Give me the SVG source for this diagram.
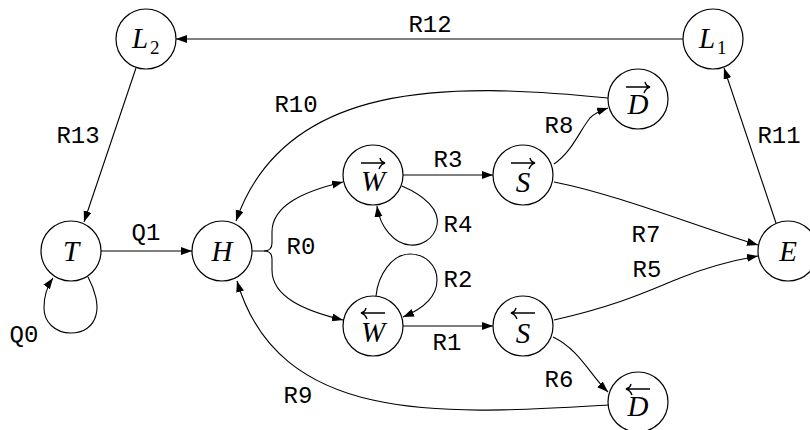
<svg xmlns="http://www.w3.org/2000/svg" width="810" height="430" viewBox="0 0 810 430">
<style>
.n circle{fill:#fff;stroke:#000;stroke-width:1.2}
.m{font-family:"Liberation Serif",serif;font-style:italic;font-size:29px;text-anchor:middle;fill:#000}
.sub{font-family:"Liberation Serif",serif;font-size:19px;fill:#000}
.acc{fill:none;stroke:#000;stroke-width:1.4}
.e path{fill:none;stroke:#000;stroke-width:1.1;marker-end:url(#ah)}
.l{font-family:"Liberation Mono","DejaVu Sans Mono",monospace;font-size:24px;text-anchor:middle;fill:#000}
</style>
<defs>
<marker id="ah" markerUnits="userSpaceOnUse" markerWidth="12" markerHeight="10" refX="11" refY="4" orient="auto">
<path d="M0,0 L11,4 L0,8 Z" fill="#000"/>
</marker>
<path id="ra" d="M0,0 L24,0 M19,-5 Q20,-1 24,0 Q20,1 18,6"/>
<path id="la" d="M24,0 L0,0 M5,-5 Q4,-1 0,0 Q4,1 6,6"/>
</defs>
<rect width="810" height="430" fill="#fff"/>
<g id="connectors" class="e">
<path d="M683,39 L176,39"/>
<path d="M136,68 L84,222"/>
<path d="M101,251 L192,251"/>
<path d="M88,277 C95,290 99,305 96,315 C93,327 83,333 71,333 C55,333 44,322 44,308 C44,295 48,285 53,278"/>
<path d="M252,251 L264,251 Q272,251 272,243 L272,232 C272,205 305,191 343,182"/>
<path d="M264,251 Q272,251 272,259 L272,270 C272,297 305,311 343,320"/>
<path d="M403,175 L493,175"/>
<path d="M402,186 C425,196 440,210 437,225 C434,240 420,246 410,245 C395,244 380,228 377,206"/>
<path d="M376,296 C378,275 392,254 410,254 C425,254 437,265 437,280 C437,298 420,310 403,317"/>
<path d="M403,326 L493,326"/>
<path d="M554,164 C572,152 580,130 590,118 C596,112 602,110 608,108"/>
<path d="M554,182 C620,195 700,228 758,245"/>
<path d="M554,320 C620,305 650,290 680,278 C710,266 735,260 758,256"/>
<path d="M553,337 C580,350 590,375 608,392"/>
<path d="M608,98 C450,82 285,80 236,221"/>
<path d="M608,405 C450,414 280,428 237,281"/>
<path d="M776,223 L724,68"/>
</g>
<g id="edge-labels">
<text class="l" x="430" y="32">R12</text>
<text class="l" x="78" y="143">R13</text>
<text class="l" x="296" y="112">R10</text>
<text class="l" x="448" y="167">R3</text>
<text class="l" x="559" y="133">R8</text>
<text class="l" x="779" y="143">R11</text>
<text class="l" x="146" y="240">Q1</text>
<text class="l" x="24" y="342">Q0</text>
<text class="l" x="301" y="254">R0</text>
<text class="l" x="458" y="232">R4</text>
<text class="l" x="458" y="287">R2</text>
<text class="l" x="447" y="350">R1</text>
<text class="l" x="646" y="242">R7</text>
<text class="l" x="647" y="277">R5</text>
<text class="l" x="559" y="387">R6</text>
<text class="l" x="298" y="403">R9</text>
</g>
<g id="L2" class="n"><circle cx="146" cy="39" r="30"/><text class="m" x="140" y="48">L</text><text class="sub" x="150" y="54">2</text></g>
<g id="L1" class="n"><circle cx="713" cy="39" r="30"/><text class="m" x="707" y="48">L</text><text class="sub" x="717" y="54">1</text></g>
<g id="T" class="n"><circle cx="71" cy="251" r="30"/><text class="m" x="71" y="261">T</text></g>
<g id="H" class="n"><circle cx="222" cy="251" r="30"/><text class="m" x="222" y="261">H</text></g>
<g id="E" class="n"><circle cx="788" cy="251" r="30"/><text class="m" x="788" y="261">E</text></g>
<g id="Wr" class="n"><circle cx="373" cy="175" r="30"/><text class="m" x="373" y="191">W</text><use href="#ra" class="acc" x="361" y="163"/></g>
<g id="Sr" class="n"><circle cx="523" cy="175" r="30"/><text class="m" x="523" y="192">S</text><use href="#ra" class="acc" x="511" y="163"/></g>
<g id="Dr" class="n"><circle cx="638" cy="99" r="30"/><text class="m" x="638" y="114">D</text><use href="#ra" class="acc" x="626" y="87"/></g>
<g id="Wl" class="n"><circle cx="373" cy="326" r="30"/><text class="m" x="373" y="342">W</text><use href="#la" class="acc" x="361" y="313"/></g>
<g id="Sl" class="n"><circle cx="523" cy="326" r="30"/><text class="m" x="523" y="343">S</text><use href="#la" class="acc" x="511" y="313"/></g>
<g id="Dl" class="n"><circle cx="638" cy="402" r="30"/><text class="m" x="638" y="416">D</text><use href="#la" class="acc" x="626" y="389"/></g>
</svg>
